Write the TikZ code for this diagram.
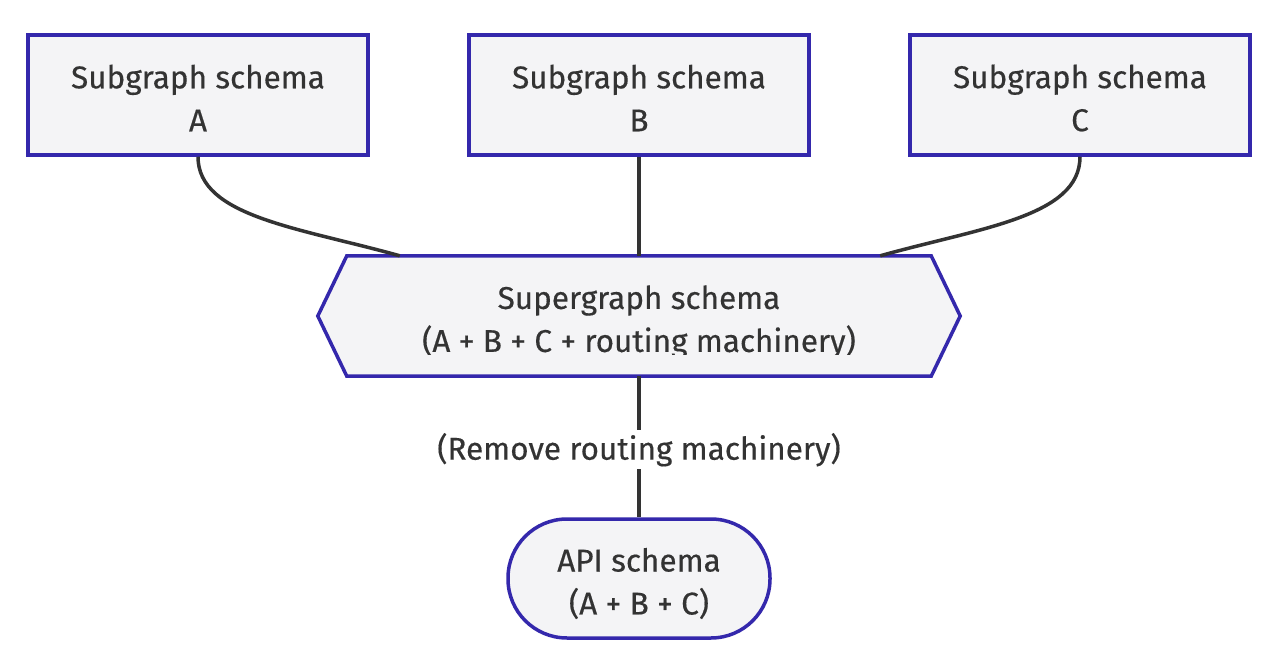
\documentclass[tikz,border=0pt]{standalone}
\usepackage{fontspec}
\setmainfont{Fira Sans}[FakeBold=0.4]
\usetikzlibrary{calc}
\definecolor{bord}{RGB}{52,40,172}
\definecolor{boxfill}{RGB}{244,244,246}
\definecolor{ink}{RGB}{51,51,51}
\newcommand{\fsz}{\fontsize{31.5}{43}\selectfont}
\begin{document}
\begin{tikzpicture}[x=1pt,y=-1pt,
  box/.style={draw=bord, fill=boxfill, line width=3.5pt, minimum width=340pt, minimum height=120pt, inner sep=0pt},
  txt/.style={text=ink, align=center, font=\fsz, inner sep=0pt},
  stadium/.style={box, minimum width=262pt, minimum height=119pt, rounded corners=59pt},
  conn/.style={draw=ink, line width=3.5pt},
  elabel/.style={fill=white, text=ink, font=\fsz, inner xsep=2pt, inner ysep=3pt}
]
\useasboundingbox (0,0) rectangle (1280,668);
\fill[white] (0,0) rectangle (1280,668);

\node[box, label={[txt, yshift=-3pt]center:{Subgraph schema\\A}}] (a) at (198,95) {};
\node[box, label={[txt, yshift=-3pt]center:{Subgraph schema\\B}}] (b) at (639,95) {};
\node[box, label={[txt, yshift=-3pt]center:{Subgraph schema\\C}}] (c) at (1080,95) {};

% hexagon
\node[minimum width=642pt, minimum height=120pt, inner sep=0pt] (hex) at (639,316) {};
\draw[draw=bord, fill=boxfill, line width=3.5pt, line join=miter]
  (hex.west) -- ($(hex.north west)+(29,0)$) -- ($(hex.north east)+(-29,0)$) -- (hex.east)
  -- ($(hex.south east)+(-29,0)$) -- ($(hex.south west)+(29,0)$) -- cycle;
\begin{scope}
  \clip (318,256) rectangle (960,355);
  \node[txt] (hexlabel) at (639,322) {Supergraph schema\\(A + B + C + routing machinery)};
\end{scope}

\node[stadium, label={[txt, yshift=-5pt]center:{API schema\\(A + B + C)}}] (api) at (639,578.5) {};

\coordinate (ha) at ($(hex.north west)+(82,0)$);
\coordinate (hc) at ($(hex.north east)+(-80,0)$);

\draw[conn] (a.south) .. controls ($(a.south)+(0,60)$) and ($(ha)+(-100,-28)$) .. (ha);
\draw[conn] (b.south) -- (b.south |- hex.north);
\draw[conn] (c.south) .. controls ($(c.south)+(0,60)$) and ($(hc)+(100,-28)$) .. (hc);
\draw[conn] (hex.south) -- node[elabel, yshift=-3pt] (rm) {(Remove routing machinery)} (api.north);
\end{tikzpicture}
\end{document}
